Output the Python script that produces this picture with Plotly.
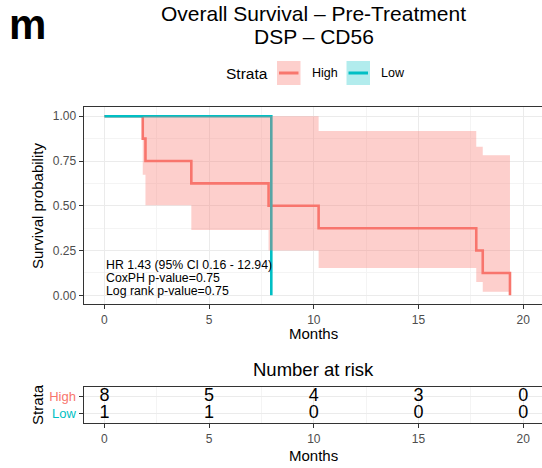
import plotly.graph_objects as go

W, H = 542, 468

# High strata: Kaplan-Meier steps (months) and estimate after each step
high_time = [0, 1.83, 1.96, 4.15, 7.84, 10.23, 17.76, 18.07, 19.37]
high_surv = [1.0, 0.875, 0.75, 0.625, 0.5, 0.375, 0.25, 0.125, 0.0]
# confidence band for each interval between consecutive times
high_upper = [1.0, 1.0, 1.0, 1.0, 1.0, 0.917, 0.83, 0.782]
high_lower = [1.0, 0.673, 0.503, 0.365, 0.25, 0.153, 0.075, 0.02]

# Low strata
low_time = [0, 7.97]
low_surv = [1.0, 0.0]

# number at risk table
risk_times = [0, 5, 10, 15, 20]
risk_high = [8, 5, 4, 3, 0]
risk_low = [1, 1, 0, 0, 0]

stats_lines = [
    "HR 1.43 (95% CI 0.16 - 12.94)",
    "CoxPH p-value=0.75",
    "Log rank p-value=0.75",
]
stats_y = [0.168, 0.095, 0.025]

RED = "#F8766D"
TEAL = "#00BFC4"
FONT = "Liberation Sans, Arial, sans-serif"


def px(x):
    return x / W


def py(y):
    return 1 - y / H


def steps(t, v):
    xs, ys = [], []
    for i in range(len(v)):
        xs += [t[i], t[i + 1]]
        ys += [v[i], v[i]]
    return xs, ys


fig = go.Figure()

# survival curves (drawn under the band, like ggsurvplot)
fig.add_trace(go.Scatter(x=high_time, y=high_surv, mode="lines", line_shape="hv",
                         line=dict(color=RED, width=2.6), showlegend=False))
fig.add_trace(go.Scatter(x=low_time, y=low_surv, mode="lines", line_shape="hv",
                         line=dict(color=TEAL, width=2.6), showlegend=False))

ux, uy = steps(high_time, high_upper)
lx, ly = steps(high_time, high_lower)
fig.add_trace(go.Scatter(x=ux + lx[::-1], y=uy + ly[::-1], fill="toself", mode="lines",
                         line=dict(width=0), fillcolor="rgba(248,118,109,0.35)",
                         showlegend=False, hoverinfo="skip"))

# risk table numbers
fig.add_trace(go.Scatter(x=risk_times + risk_times, y=[2] * 5 + [1] * 5,
                         text=[str(v) for v in risk_high + risk_low], mode="text",
                         textfont=dict(size=18, color="black", family=FONT),
                         xaxis="x2", yaxis="y2", showlegend=False))

axis_common = dict(
    showline=True, linecolor="#333333", linewidth=1, automargin=False,
    ticks="outside", ticklen=4, tickcolor="#333333", tickwidth=1,
    showgrid=True, gridcolor="#EBEBEB", gridwidth=1.2, zeroline=False,
    tickfont=dict(size=12, color="#4D4D4D", family=FONT),
)

x_dom = [px(83.5), 1]
x_rng = [-1, 20.9]

fig.update_layout(
    width=W, height=H, margin=dict(l=0, r=0, t=0, b=0),
    paper_bgcolor="white", plot_bgcolor="white",
    font=dict(family=FONT, color="black"),
    xaxis=dict(domain=x_dom, range=x_rng, anchor="y", tickvals=risk_times, mirror=True,
               minor=dict(dtick=2.5, showgrid=True, gridcolor="#F4F4F4", gridwidth=0.8),
               **axis_common),
    yaxis=dict(domain=[py(304.3), py(107.3)], range=[-0.05, 1.05], anchor="x",
               tickvals=[0, 0.25, 0.5, 0.75, 1], tickformat=".2f", mirror=False,
               minor=dict(dtick=0.125, showgrid=True, gridcolor="#F4F4F4", gridwidth=0.8),
               **axis_common),
    xaxis2=dict(domain=x_dom, range=x_rng, anchor="y2", tickvals=risk_times, mirror=True,
                minor=dict(dtick=2.5, showgrid=True, gridcolor="#F4F4F4", gridwidth=0.8),
                **axis_common),
    yaxis2=dict(domain=[py(423.3), py(386.7)], range=[0.4, 2.6], anchor="x2",
                tickvals=[1, 2], mirror=False,
                ticktext=[f'<span style="color:{TEAL}">Low</span>',
                          f'<span style="color:{RED}">High</span>'],
                **{**axis_common, "tickfont": dict(size=13, family=FONT)}),
)

ann = []


def label(text, x, y, size, xanchor="center", **kw):
    ann.append(dict(text=text, x=px(x), y=py(y), xref="paper", yref="paper",
                    xanchor=xanchor, yanchor="middle", showarrow=False,
                    font=dict(size=size, family=FONT, color="black"), **kw))


label("<b>m</b>", 27.5, 24, 42)
label("Overall Survival – Pre-Treatment", 313.5, 13, 21)
label("DSP – CD56", 313.5, 37, 21)
label("Months", 313.5, 333, 15)
label("Survival probability", 37, 206, 15, textangle=-90)
label("Number at risk", 313.5, 369, 18.5)
label("Strata", 37, 405, 15, textangle=-90)
label("Months", 313.5, 455, 15)

# legend
label("Strata", 246.5, 73, 15.5)
label("High", 310, 73, 12.5, xanchor="left")
label("Low", 379, 73, 12.5, xanchor="left")

for txt, yy in zip(stats_lines, stats_y):
    ann.append(dict(text=txt, x=0, y=yy, xref="x", yref="y", xanchor="left",
                    yanchor="middle", showarrow=False,
                    font=dict(size=12.3, family=FONT, color="black")))

fig.update_layout(annotations=ann)

shapes = []
for x0, col, fillc in [(277, RED, "rgba(248,118,109,0.35)"),
                       (346.5, TEAL, "rgba(0,191,196,0.3)")]:
    shapes.append(dict(type="rect", xref="paper", yref="paper",
                       x0=px(x0), x1=px(x0 + 23.5), y0=py(85), y1=py(61),
                       fillcolor=fillc, line=dict(width=0)))
    shapes.append(dict(type="line", xref="paper", yref="paper",
                       x0=px(x0 + 2), x1=px(x0 + 21.5), y0=py(73), y1=py(73),
                       line=dict(color=col, width=3)))
fig.update_layout(shapes=shapes)

# drop the browser's default body margin so the figure sits at the page corner
fig.write_html("out.html", config={"displayModeBar": False},
               post_script="document.body.style.margin = '0';")
